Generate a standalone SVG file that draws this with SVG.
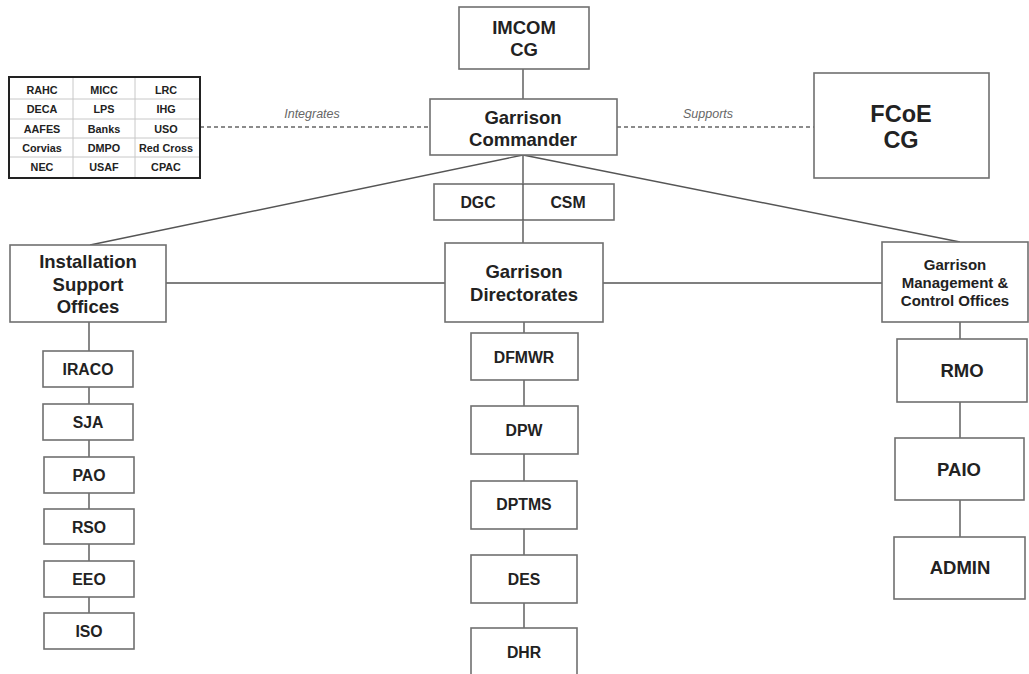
<svg xmlns="http://www.w3.org/2000/svg" width="1029" height="674" viewBox="0 0 1029 674">
  <style>
    .box { fill: #ffffff; stroke: #707070; stroke-width: 1.6; }
    .ln { stroke: #555555; stroke-width: 1.4; fill: none; }
    .dash { stroke: #666666; stroke-width: 1.4; stroke-dasharray: 4 3; fill: none; }
    .grid { stroke: #c8c8c8; stroke-width: 1; }
    text { font-family: "Liberation Sans", Arial, sans-serif; font-weight: bold; fill: #222222; text-anchor: middle; }
    .t18 { font-size: 18.5px; }
    .t15 { font-size: 15px; }
    .t16 { font-size: 15.8px; }
    .t24 { font-size: 23.5px; }
    .tsm { font-size: 10.8px; }
    .lbl { font-size: 12.5px; font-weight: normal; font-style: italic; fill: #666666; }
  </style>

  <rect width="1029" height="674" fill="#ffffff"/>

  <!-- connectors -->
  <g id="connectors">
    <line class="ln" x1="523" y1="69" x2="523" y2="99"/>
    <line class="ln" x1="523" y1="155" x2="523" y2="243"/>
    <line class="ln" x1="523" y1="155" x2="90" y2="245"/>
    <line class="ln" x1="523" y1="155" x2="960" y2="242"/>
    <line class="ln" x1="166" y1="283" x2="445" y2="283"/>
    <line class="ln" x1="603" y1="283" x2="882" y2="283"/>
    <line class="ln" x1="89" y1="322" x2="89" y2="613"/>
    <line class="ln" x1="524" y1="322" x2="524" y2="628"/>
    <line class="ln" x1="960" y1="322" x2="960" y2="537"/>
    <line class="dash" x1="200" y1="127" x2="430" y2="127"/>
    <line class="dash" x1="617" y1="127" x2="814" y2="127"/>
    <text class="lbl" x="312" y="118">Integrates</text>
    <text class="lbl" x="708" y="118">Supports</text>
  </g>

  <!-- partner organisations table -->
  <g id="partners">
    <rect x="9" y="77" width="191" height="101" fill="#ffffff" stroke="#222222" stroke-width="2"/>
    <line class="grid" x1="73" y1="78" x2="73" y2="177"/>
    <line class="grid" x1="135" y1="78" x2="135" y2="177"/>
    <line class="grid" x1="10" y1="99" x2="199" y2="99"/>
    <line class="grid" x1="10" y1="119" x2="199" y2="119"/>
    <line class="grid" x1="10" y1="138" x2="199" y2="138"/>
    <line class="grid" x1="10" y1="157" x2="199" y2="157"/>
    <text class="tsm" x="42" y="94">RAHC</text>
    <text class="tsm" x="104" y="94">MICC</text>
    <text class="tsm" x="166" y="94">LRC</text>
    <text class="tsm" x="42" y="113">DECA</text>
    <text class="tsm" x="104" y="113">LPS</text>
    <text class="tsm" x="166" y="113">IHG</text>
    <text class="tsm" x="42" y="133">AAFES</text>
    <text class="tsm" x="104" y="133">Banks</text>
    <text class="tsm" x="166" y="133">USO</text>
    <text class="tsm" x="42" y="152">Corvias</text>
    <text class="tsm" x="104" y="152">DMPO</text>
    <text class="tsm" x="166" y="152">Red Cross</text>
    <text class="tsm" x="42" y="171">NEC</text>
    <text class="tsm" x="104" y="171">USAF</text>
    <text class="tsm" x="166" y="171">CPAC</text>
  </g>

  <g id="imcom-cg">
    <rect class="box" x="459" y="7" width="130" height="62"/>
    <text class="t18" x="524" y="34">IMCOM</text>
    <text class="t18" x="524" y="56">CG</text>
  </g>

  <g id="garrison-commander">
    <rect class="box" x="430" y="99" width="187" height="56"/>
    <text class="t18" x="523" y="124">Garrison</text>
    <text class="t18" x="523" y="146">Commander</text>
  </g>

  <g id="fcoe-cg">
    <rect class="box" x="814" y="73" width="175" height="105"/>
    <text class="t24" x="901" y="122">FCoE</text>
    <text class="t24" x="901" y="148">CG</text>
  </g>

  <g id="dgc-csm">
    <rect class="box" x="434" y="184" width="180" height="36"/>
    <line class="ln" x1="523" y1="184" x2="523" y2="220"/>
    <text class="t16" x="478" y="208">DGC</text>
    <text class="t16" x="568" y="208">CSM</text>
  </g>

  <g id="installation-support">
    <rect class="box" x="10" y="245" width="156" height="77"/>
    <text class="t18" x="88" y="268">Installation</text>
    <text class="t18" x="88" y="291">Support</text>
    <text class="t18" x="88" y="313">Offices</text>
  </g>

  <g id="garrison-directorates">
    <rect class="box" x="445" y="243" width="158" height="79"/>
    <text class="t18" x="524" y="278">Garrison</text>
    <text class="t18" x="524" y="301">Directorates</text>
  </g>

  <g id="garrison-management">
    <rect class="box" x="882" y="242" width="146" height="80"/>
    <text class="t15" x="955" y="270">Garrison</text>
    <text class="t15" x="955" y="288">Management &amp;</text>
    <text class="t15" x="955" y="306">Control Offices</text>
  </g>

  <!-- installation support offices -->
  <g id="iraco">
    <rect class="box" x="43" y="351" width="90" height="36"/>
    <text class="t16" x="88" y="375">IRACO</text>
  </g>
  <g id="sja">
    <rect class="box" x="43" y="404" width="90" height="36"/>
    <text class="t16" x="88" y="428">SJA</text>
  </g>
  <g id="pao">
    <rect class="box" x="44" y="457" width="90" height="36"/>
    <text class="t16" x="89" y="481">PAO</text>
  </g>
  <g id="rso">
    <rect class="box" x="44" y="509" width="90" height="35"/>
    <text class="t16" x="89" y="533">RSO</text>
  </g>
  <g id="eeo">
    <rect class="box" x="44" y="561" width="90" height="36"/>
    <text class="t16" x="89" y="585">EEO</text>
  </g>
  <g id="iso">
    <rect class="box" x="44" y="613" width="90" height="36"/>
    <text class="t16" x="89" y="637">ISO</text>
  </g>

  <!-- directorates -->
  <g id="dfmwr">
    <rect class="box" x="471" y="333" width="107" height="47"/>
    <text class="t16" x="524" y="363">DFMWR</text>
  </g>
  <g id="dpw">
    <rect class="box" x="471" y="406" width="107" height="48"/>
    <text class="t16" x="524" y="436">DPW</text>
  </g>
  <g id="dptms">
    <rect class="box" x="471" y="481" width="106" height="48"/>
    <text class="t16" x="524" y="510">DPTMS</text>
  </g>
  <g id="des">
    <rect class="box" x="471" y="555" width="106" height="48"/>
    <text class="t16" x="524" y="585">DES</text>
  </g>
  <g id="dhr">
    <rect class="box" x="471" y="628" width="106" height="50"/>
    <text class="t16" x="524" y="658">DHR</text>
  </g>

  <!-- management and control offices -->
  <g id="rmo">
    <rect class="box" x="897" y="339" width="130" height="63"/>
    <text class="t18" x="962" y="377">RMO</text>
  </g>
  <g id="paio">
    <rect class="box" x="895" y="438" width="129" height="62"/>
    <text class="t18" x="959" y="476">PAIO</text>
  </g>
  <g id="admin">
    <rect class="box" x="894" y="537" width="131" height="62"/>
    <text class="t18" x="960" y="574">ADMIN</text>
  </g>
</svg>
